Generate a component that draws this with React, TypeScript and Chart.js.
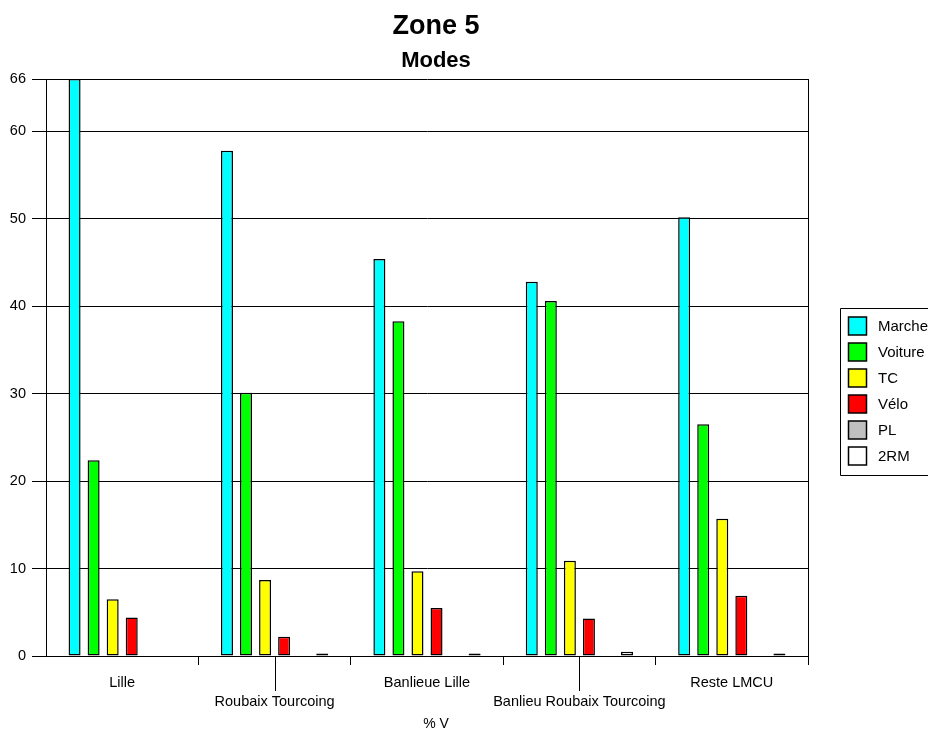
import React, { useEffect, useRef } from "react";
import { Chart, registerables } from "chart.js";

Chart.register(...registerables);

const categories = ["Lille", "Roubaix Tourcoing", "Banlieue Lille", "Banlieu Roubaix Tourcoing", "Reste LMCU"];
const marche = [66, 57.8, 45.4, 42.8, 50.2];
const voiture = [22.4, 30.1, 38.3, 40.6, 26.5];
const tc = [6.5, 8.7, 9.7, 10.9, 15.7];
const velo = [4.4, 2.2, 5.5, 4.3, 6.9];
const pl = [0, 0, 0, 0, 0];
const rm2 = [0, 0.3, 0.3, 0.5, 0.3];
const yTicks = [0, 10, 20, 30, 40, 50, 60, 66];

const seriesNames = ["Marche", "Voiture", "TC", "Vélo", "PL", "2RM"];
const seriesColors = ["#00FFFF", "#00FF00", "#FFFF00", "#FF0000", "#C0C0C0", "#FFFFFF"];

const FONT = "'Liberation Sans', Arial, Helvetica, sans-serif";

const decorPlugin = {
  id: "decor",
  afterDraw(chart: any) {
    const { ctx, chartArea } = chart;
    const xs = chart.scales.x;
    ctx.save();
    ctx.fillStyle = "#000";
    ctx.textAlign = "center";
    ctx.textBaseline = "middle";
    ctx.font = `bold 27px ${FONT}`;
    ctx.fillText("Zone 5", 436, 27);
    ctx.font = `bold 22px ${FONT}`;
    ctx.fillText("Modes", 436, 61);
    ctx.font = `14px ${FONT}`;
    ctx.fillText("% V", 436, 724);
    ctx.strokeStyle = "#000";
    ctx.lineWidth = 1;
    ctx.beginPath();
    const rx = Math.round(chartArea.right) + 0.5;
    ctx.moveTo(rx, chartArea.top);
    ctx.lineTo(rx, chartArea.bottom + 9);
    ctx.stroke();
    categories.forEach((_, i) => {
      if (i % 2 === 1) {
        const x = Math.round(xs.getPixelForValue(i)) + 0.5;
        ctx.beginPath();
        ctx.moveTo(x, chartArea.bottom);
        ctx.lineTo(x, chartArea.bottom + 35);
        ctx.stroke();
      }
    });
    const lx = 840.5, ly = 308.5;
    ctx.beginPath();
    ctx.rect(lx, ly, 110, 167);
    ctx.stroke();
    ctx.textAlign = "left";
    ctx.font = `15px ${FONT}`;
    chart.data.datasets.forEach((ds: any, i: number) => {
      const cy = 326 + i * 26;
      ctx.fillStyle = ds.backgroundColor;
      ctx.fillRect(848.5, cy - 9, 18, 18);
      ctx.lineWidth = 1.5;
      ctx.strokeRect(848.5, cy - 9, 18, 18);
      ctx.fillStyle = "#000";
      ctx.fillText(ds.label, 878, cy + 1);
    });
    ctx.restore();
  },
};

export default function App() {
  const ref = useRef<HTMLCanvasElement | null>(null);
  useEffect(() => {
    document.body.style.margin = "0";
    const series = [marche, voiture, tc, velo, pl, rm2];
    const chart = new Chart(ref.current as HTMLCanvasElement, {
      type: "bar",
      data: {
        labels: categories,
        datasets: series.map((d, i) => ({
          label: seriesNames[i],
          data: d,
          backgroundColor: seriesColors[i],
          borderColor: "#000",
          borderWidth: 1.5,
          borderSkipped: false,
          barPercentage: 0.63,
          categoryPercentage: 0.75,
        })),
      },
      options: {
        responsive: false,
        animation: false,
        layout: { padding: { top: 79, right: 120, left: 0, bottom: 0 } },
        plugins: {
          legend: { display: false },
          title: { display: false },
          tooltip: { enabled: false },
        },
        scales: {
          x: {
            afterFit: (s: any) => {
              s.height = 75;
            },
            border: { display: true, color: "#000", width: 1 },
            grid: {
              offset: true,
              drawOnChartArea: false,
              drawTicks: true,
              tickLength: 9,
              color: "#000",
              tickColor: (c: any) => (c.index === 0 ? "rgba(0,0,0,0)" : "#000"),
            },
            ticks: {
              autoSkip: false,
              maxRotation: 0,
              minRotation: 0,
              padding: 8,
              color: "#000",
              font: { family: FONT, size: 14.5, lineHeight: 19 / 14.5 },
              callback: (_v: any, i: number) => (i % 2 === 1 ? ["", categories[i]] : categories[i]),
            },
          },
          y: {
            min: 0,
            max: 66,
            afterFit: (s: any) => {
              s.width = 46;
            },
            afterBuildTicks: (s: any) => {
              s.ticks = yTicks.map((v) => ({ value: v }));
            },
            border: { display: true, color: "#000", width: 1 },
            grid: {
              color: "#000",
              lineWidth: 1,
              drawTicks: true,
              tickLength: 14,
            },
            ticks: {
              padding: 6,
              color: "#000",
              font: { family: FONT, size: 14.5 },
            },
          },
        },
      },
      plugins: [decorPlugin],
    });
    return () => chart.destroy();
  }, []);
  return (
    <div style={{ width: 928, height: 731, overflow: "hidden", background: "#fff" }}>
      <canvas ref={ref} width={928} height={731} style={{ display: "block" }} />
    </div>
  );
}
